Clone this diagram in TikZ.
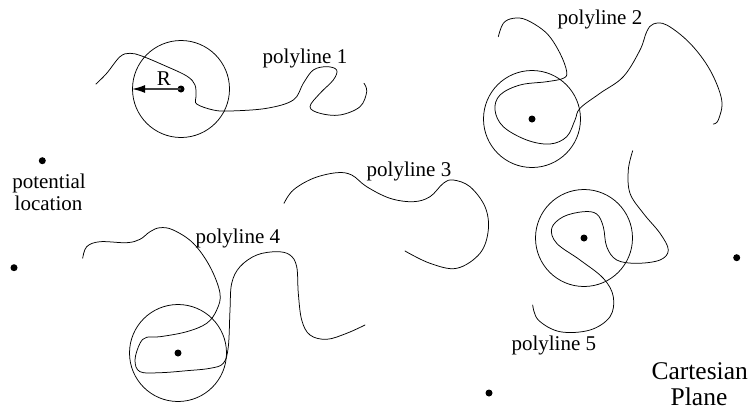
\documentclass[tikz,border=0pt]{standalone}
\usepackage{fontspec}
\setmainfont{Liberation Serif}
\usetikzlibrary{arrows.meta}
\begin{document}
\begin{tikzpicture}[x=1pt,y=-1pt,
  curve/.style={line width=0.75pt, line join=round, line cap=round},
  dotnode/.style={circle, fill=black, inner sep=0pt, minimum size=7pt},
  ring/.style={circle, draw, line width=0.75pt, inner sep=0pt, minimum size=97pt},
  lbl/.style={anchor=base, inner sep=0pt, font=\fontsize{21}{24}\selectfont},
  biglbl/.style={anchor=base, inner sep=0pt, font=\fontsize{25.5}{28}\selectfont}]
\useasboundingbox (0,0) rectangle (752,418);

% polyline 1
\node[ring] (r1) at (181,89) {};
\node[dotnode] (d1) at (181,89) {};
\draw[curve] plot[smooth, tension=0.6] coordinates {(96,84) (106.7,73.3) (120,56.7) (130,53.3) (141.7,56) (163.3,65) (186.7,76) (195,85) (196,96.7) (196.7,104) (213.3,110) (230,111) (266.7,108.3) (293.3,100) (303.3,83.3) (313.3,70) (326.7,66.7) (336.7,70) (333.3,80) (320,93.3) (310,106.7) (320,113.3) (340,115) (360,106.7) (366.7,91.7) (364,83.3)};
\draw[line width=1.4pt, draw=black!75, -{Latex[length=13pt,width=8pt,fill=black,color=black]}] (d1.center) -- (r1.west);
\node[lbl] (R) at (163.8,85) {R};
\node[lbl] (p1) at (305,63.3) {polyline 1};

% polyline 2
\node[ring] (r2) at (532,119) {};
\node[dotnode] (d2) at (532,119) {};
\draw[curve] plot[smooth, tension=0.6] coordinates {(498.3,36.7) (503.3,23.3) (513.3,18.3) (526.7,20) (546.7,33.3) (560,53.3) (566.7,71.7) (563.3,78.3) (546.7,81.7) (520,85) (500,95) (495,110) (503.3,126.7) (526.7,140) (550,144) (566.7,136.7) (575,120) (580,108.3) (600,93.3) (623.3,76.7) (640,50) (646.7,31.7) (653.3,24) (666.7,25) (690,43.3) (710,70) (721.7,100) (718.3,120) (713.3,124)};
\node[lbl] (p2) at (600,24) {polyline 2};

% polyline 3
\draw[curve] plot[smooth, tension=0.6] coordinates {(284,203.3) (293.3,190) (313.3,178.3) (336.7,172.7) (351.7,175) (366.7,186.7) (390,198.3) (413.3,201.7) (430,196.7) (443.3,183.3) (453.3,180) (470,186.7) (485,206.7) (488.3,230) (480,253.3) (456.7,268.3) (430,263.3) (405,251)};
\node[lbl] (p3) at (409,176.7) {polyline 3};

% polyline 4
\node[ring] (r4) at (178,353) {};
\node[dotnode] (d4) at (178,353) {};
\draw[curve] plot[smooth, tension=0.6] coordinates {(82.7,258.3) (86.7,246.7) (100,241.7) (126.7,242.7) (140,239.3) (150,231.7) (160,227.7) (173.3,230) (193.3,243.3) (210,266.7) (220,293.3) (216.7,310) (206.7,323.3) (186.7,331.7) (160,336.7) (146.7,337.3) (140,343.3) (135,360) (140,371.7) (160,372.7) (186.7,370.7) (210,368.3) (223.3,363.3) (228.3,346.7) (230,310) (231.7,283.3) (240,266.7) (256.7,255) (276.7,251.7) (290,255) (296.7,266.7) (298.3,293.3) (301.7,320) (310,335) (326.7,339.3) (346.7,333.3) (365,325)};
\node[lbl] (p4) at (237.8,243.3) {polyline 4};

% polyline 5
\node[ring] (r5) at (584,238) {};
\node[dotnode] (d5) at (584,238) {};
\draw[curve] plot[smooth, tension=0.6] coordinates {(632.7,150.7) (628.3,170) (630,193.3) (643.3,213.3) (660,233.3) (668.3,250) (660,260) (636.7,263.3) (616.7,260) (606.7,246.7) (603.3,226.7) (596.7,214) (583.3,211.7) (563.3,216.7) (551.7,228.3) (556.7,243.3) (580,260) (603.3,278.3) (613.3,296.7) (610,316.7) (590,330) (560,331.7) (538.3,320) (532.7,305)};
\node[lbl] (p5) at (553.8,350.7) {polyline 5};

% potential locations
\node[dotnode] (pl1) at (42.3,160.7) {};
\node[lbl] (pt1) at (49,188.3) {potential};
\node[lbl] (pt2) at (48.5,210) {location};
\node[dotnode] (pl2) at (14,267.7) {};
\node[dotnode] (pl3) at (736.7,257.7) {};
\node[dotnode] (pl4) at (489,393) {};

% Cartesian plane label
\node[biglbl] (cart) at (699.7,379.3) {Cartesian};
\node[biglbl] (plane) at (699,405) {Plane};
\end{tikzpicture}
\end{document}
